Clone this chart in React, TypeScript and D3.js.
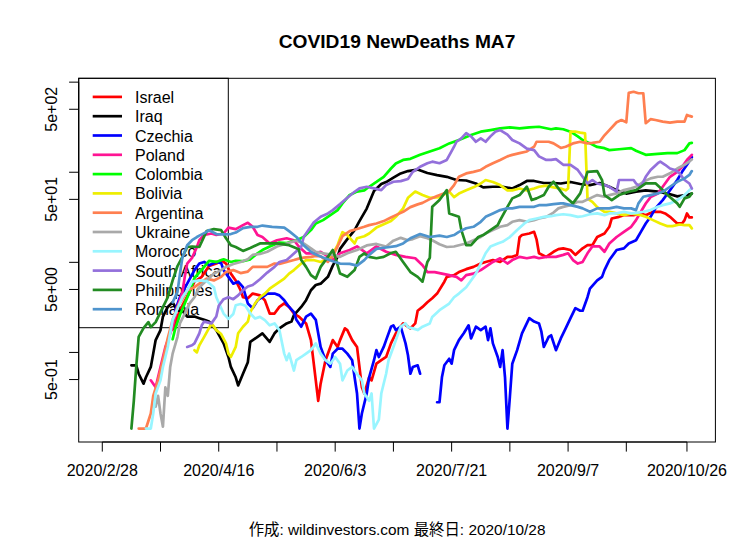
import * as d3 from "d3";

const W = 756;
const H = 540;
const MARGIN = { top: 78.3, right: 40.6, bottom: 98, left: 78.7 };

const FIRST_DATE = "2020-02-28";
const LAST_DATE = "2020-10-28";
const X_TICKS = [
  "2020-02-28", "2020-03-23", "2020-04-16", "2020-05-10", "2020-06-03", "2020-06-27",
  "2020-07-21", "2020-08-14", "2020-09-07", "2020-10-01", "2020-10-26",
];
const Y_TICKS = [0.5, 1, 5, 10, 50, 100, 500, 1000];
const Y_LABELS = ["5e-01", "", "5e+00", "", "5e+01", "", "5e+02", ""];

// [days since 2020-02-28, 7 day mean of new deaths]
const israel = [[29,1.8],[31,2.5],[33,3.3],[36,4.7],[38,6.1],[41,6.9],[44,9.1],[47,9.7],[49,10.6],[51,9.7],[53,7.5],[55,6.3],[57,4.9],[58,4.1],[60,4.0],[62,4.5],[65,4.3],[67,3.8],[69,2.7],[71,2.7],[73,3.2],[75,3.5],[77,3.2],[79,2.7],[81,2.5],[84,2.1],[86,1.37],[87,0.82],[88,0.49],[89,0.29],[90,0.45],[92,0.82],[94,1.15],[95,1.37],[97,1.15],[98,1.37],[100,1.85],[101,1.77],[103,1.37],[105,1.15],[106,0.69],[107,0.41],[108,0.35],[110,0.53],[111,0.49],[113,0.75],[115,0.82],[117,0.89],[119,1.26],[121,1.63],[123,1.93],[124,2.1],[127,1.85],[129,2.1],[130,2.9],[132,3.2],[134,3.6],[136,4.0],[138,4.5],[141,6.1],[142,6.9],[145,7.2],[147,7.8],[150,8.4],[153,8.9],[156,9.7],[158,10.1],[161,10.6],[164,10.1],[167,11.5],[169,11.5],[171,12.1],[172,19],[173,20.1],[176,20.9],[178,21.8],[179,18],[180,12.6],[183,11.5],[186,13.1],[188,14],[190,14.3],[193,13.7],[195,12.1],[198,14.3],[200,15.5],[202,15.5],[204,19.1],[207,20.9],[209,24.8],[210,30.7],[213,32],[215,33.4],[219,33.4],[222,34.9],[224,33.4],[227,36.4],[230,36.4],[232,34.9],[234,32],[237,27],[239,27],[240,29.4],[241,34.9],[242,31.5],[243,31.5]];
const iraq = [[12,0.72],[14,0.72],[15,0.58],[17,0.45],[18,0.53],[20,0.69],[21,0.97],[22,1.37],[24,1.77],[25,2.5],[27,3.2],[29,3.6],[31,2.9],[33,2.9],[35,2.5],[38,2.5],[40,2.4],[42,2.3],[44,2.2],[47,1.77],[50,1.26],[52,0.89],[53,0.69],[55,0.53],[56,0.43],[58,0.58],[60,0.78],[61,1.31],[64,1.49],[66,1.63],[69,1.31],[71,1.63],[73,1.85],[76,2.1],[78,2.2],[79,2.6],[82,3.2],[84,3.8],[86,4.9],[88,5.6],[90,5.8],[93,6.9],[95,9.2],[97,11.5],[98,14.1],[101,18.1],[104,22.8],[106,28.7],[109,39.5],[112,61.8],[115,73.9],[117,77.8],[120,87],[123,97],[126,103],[130,107],[134,98],[138,93],[142,89],[146,82],[150,81],[154,75],[157,68],[161,69],[165,69],[169,66],[172,72],[175,80],[178,80],[182,76],[186,76],[189,75],[193,78],[197,74],[201,72],[205,76],[209,69],[212,63],[216,58],[220,61],[224,63],[229,61],[233,58],[237,54],[241,56],[243,58]];
const czechia = [[30,2.9],[32,4.1],[35,5.8],[38,8.2],[40,9.7],[42,10.1],[44,9.3],[47,10.1],[49,9.8],[50,8.2],[52,6.9],[54,5.8],[56,6.1],[58,5.3],[60,3.5],[62,3.1],[64,3.8],[66,4.1],[68,4.5],[71,4.5],[73,4.3],[75,3.8],[77,3.2],[79,2.8],[80,2.3],[82,1.93],[84,2.5],[86,2.7],[88,2.3],[89,1.63],[90,1.15],[92,0.82],[94,0.69],[95,0.97],[97,1.1],[99,1.1],[101,0.97],[103,0.82],[104,0.53],[105,0.35],[106,0.143],[107,0.21],[109,0.35],[110,0.53],[112,0.82],[113,1.06],[114,0.89],[116,1.15],[117,1.37],[119,1.93],[120,2.0],[121,1.77],[123,1.93],[125,1.26],[126,0.93],[127,0.58],[128,0.69],[130,0.72],[131,0.58],[134,null],[138,0.28],[139,0.28],[140,0.53],[141,0.72],[143,0.85],[144,0.75],[145,1.06],[147,1.37],[149,1.63],[151,2.0],[152,1.43],[154,1.93],[156,1.77],[158,1.93],[159,1.37],[160,1.85],[161,1.26],[163,0.89],[164,0.69],[165,1.06],[166,0.53],[167,0.143],[168,0.32],[169,0.75],[171,1.06],[173,1.63],[176,2.4],[178,2.2],[180,2.1],[181,1.7],[182,1.15],[184,1.49],[185,1.55],[187,1.06],[189,1.43],[191,1.85],[193,2.4],[195,3.1],[197,2.9],[198,2.9],[200,4.1],[201,5.1],[204,6.3],[206,6.9],[207,8.2],[209,10.6],[212,13.7],[215,14.3],[217,16.2],[220,17.6],[222,21.8],[224,27],[226,32],[228,39.7],[231,49],[234,63],[237,82],[239,101],[241,121],[243,147]];
const poland = [[20,0.49],[22,0.41],[24,0.69],[26,1.15],[29,1.93],[31,3.2],[33,4.6],[34,6.9],[35,9.7],[37,11.2],[39,14.8],[40,17.6],[42,20.1],[45,20.9],[47,20.1],[50,20.9],[52,24.3],[55,23.4],[58,25.9],[60,27.5],[62,24.8],[64,20.1],[66,19.1],[69,16.2],[72,17.6],[76,18.5],[79,17.6],[81,15],[84,12.6],[87,12.6],[90,13.1],[92,12.1],[95,10.6],[98,12.6],[102,13.7],[105,15],[109,12.6],[113,15],[117,13.1],[121,12.1],[125,11.5],[129,11.1],[132,9.3],[134,7.8],[137,7.8],[140,7.5],[143,7.2],[146,6.9],[148,6.3],[150,7.2],[153,7.5],[156,8.2],[158,8.9],[161,10.1],[164,11.1],[167,9.7],[169,10.6],[172,11.5],[175,11.1],[178,11.5],[180,11.1],[183,11.5],[187,11.5],[190,12.1],[192,12.6],[194,10.6],[196,9.7],[198,10.1],[200,12.6],[202,15],[205,15],[207,13.1],[209,16.2],[212,19.1],[215,21.8],[218,24.8],[220,29.4],[222,36.4],[224,45],[226,53],[229,58],[231,69],[234,89],[237,101],[239,115],[241,137],[243,156]];
const colombia = [[29,1.4],[30,1.8],[32,2.6],[34,3.5],[36,4.7],[38,6.7],[42,8.9],[44,10.4],[47,10.1],[50,10.8],[53,10.1],[55,10.4],[58,10.3],[61,10.8],[64,12.6],[66,13.7],[69,15],[73,16.6],[76,16.4],[80,17.6],[83,19.1],[86,22.8],[88,27],[91,29.4],[94,33.4],[97,38],[99,45],[102,56],[105,61],[108,63],[110,69],[113,78],[116,89],[119,110],[121,125],[124,137],[127,141],[131,156],[135,170],[139,185],[143,209],[147,228],[152,259],[156,282],[160,294],[164,307],[168,315],[172,307],[176,315],[180,320],[185,300],[187,307],[190,300],[193,282],[196,250],[198,228],[201,209],[204,191],[207,185],[209,176],[213,180],[218,185],[220,173],[224,156],[229,160],[233,163],[237,163],[240,176],[242,209],[243,212]];
const bolivia = [[38,1.06],[39,1.0],[40,1.2],[42,1.49],[44,1.86],[45,2.1],[47,1.77],[49,1.6],[51,1.26],[52,0.97],[53,0.89],[55,1.15],[56,1.63],[58,1.93],[60,2.2],[61,2.8],[63,3.5],[65,4.1],[67,4.5],[69,5.1],[72,5.8],[75,6.6],[77,7.5],[79,8.2],[82,9.7],[84,10.6],[87,10.6],[90,10.1],[92,10.6],[94,11.1],[95,12.5],[97,15.5],[98,18.5],[99,21.6],[101,20.1],[104,16.2],[105,18.5],[108,19.5],[110,20.9],[113,24.3],[116,26.5],[119,28.7],[121,32],[124,39.7],[126,52],[129,61],[132,56],[135,52],[139,53],[143,61],[145,53],[147,58],[150,63],[153,68],[156,75],[158,82],[161,78],[164,72],[167,63],[169,63],[172,66],[175,63],[178,66],[180,69],[183,71],[186,68],[189,66],[191,63],[192,66],[193,282],[195,282],[197,275],[199,270],[200,51],[202,47],[204,41],[207,36.4],[209,36.4],[212,34.9],[215,33.4],[218,34.9],[222,33.4],[224,32],[227,29.4],[230,27],[233,25.2],[235,25.2],[238,26.3],[240,25.9],[242,25.9],[243,23.8]];
const argentina = [[15,0.143],[18,0.143],[20,0.21],[21,0.33],[23,0.49],[25,0.82],[27,1.44],[29,2.3],[31,3.2],[33,3.9],[35,4.9],[38,5.3],[40,5.8],[43,6.6],[46,6.3],[49,6.9],[51,7.8],[54,8.2],[57,7.6],[60,7.9],[62,8.9],[65,8.9],[68,8.9],[71,9.7],[73,9.6],[76,10.1],[79,10.6],[81,11],[83,11.3],[86,11.5],[88,11.8],[90,11.7],[93,10.1],[95,11.7],[97,15],[99,19.5],[102,22.2],[105,23.4],[108,24.8],[110,25.9],[113,27],[116,28.7],[119,31.5],[121,33.4],[124,36.4],[127,41],[130,44],[132,45.7],[135,50.3],[138,54.4],[141,58.3],[143,61.8],[145,72],[147,89],[150,97],[153,101],[156,106],[158,115],[161,126],[164,137],[167,150],[169,156],[172,163],[175,170],[178,192],[179,218],[181,218],[184,218],[186,209],[189,186],[191,192],[194,209],[197,218],[200,209],[202,212],[205,218],[207,257],[209,294],[212,359],[214,380],[216,359],[217,760],[219,782],[221,753],[223,753],[224,350],[226,388],[228,380],[231,365],[234,356],[237,365],[240,365],[241,432],[242,422],[243,414]];
const ukraine = [[22,0.25],[23,0.33],[24,0.21],[25,0.15],[26,0.41],[27,0.33],[28,0.69],[29,0.97],[31,1.49],[32,2.1],[34,2.7],[36,3.5],[38,4.1],[40,5.3],[43,6.3],[46,7.5],[49,8.2],[51,8.9],[54,9.6],[57,10.1],[60,10.8],[62,12.1],[65,12.4],[68,13.1],[72,15],[76,16.2],[80,17.4],[83,16.2],[86,14.3],[88,13.1],[91,12.6],[95,12.1],[98,11.5],[101,12.6],[105,13.7],[109,15.4],[113,16],[117,15],[120,17.4],[123,18.7],[126,17.6],[128,18.1],[131,19.5],[134,18.5],[136,17.6],[139,15.9],[142,14.8],[145,15],[147,15.5],[150,16.2],[153,17.6],[156,19.1],[158,20.9],[161,22.8],[164,24.8],[167,25.9],[169,28.2],[172,29.4],[175,28.2],[178,29.4],[180,30.7],[183,32],[186,35.7],[188,39.7],[190,41.3],[193,43.1],[196,47],[198,47],[201,51.3],[204,55.8],[207,53.4],[209,55.8],[212,58.3],[215,63.4],[218,66.2],[220,69],[223,78.4],[226,85.5],[229,89.1],[231,89.1],[234,97.4],[237,110],[240,121],[242,132],[243,139]];
const morocco = [[18,0.143],[20,0.143],[21,0.21],[22,0.35],[24,0.49],[25,0.69],[27,1.15],[28,1.63],[29,2.3],[31,3.05],[33,4.1],[35,4.9],[37,6.1],[40,6.3],[43,6.2],[46,5.3],[47,4.1],[50,2.7],[52,2.36],[54,2.67],[55,3.34],[57,3.45],[59,3.3],[61,2.7],[63,2.38],[65,2.48],[67,2.28],[69,2.0],[71,2.1],[73,1.77],[75,0.97],[76,0.82],[77,0.97],[79,0.63],[80,0.82],[82,0.89],[84,0.97],[86,1.06],[88,1.26],[90,0.97],[92,0.82],[94,0.75],[96,0.89],[98,0.75],[99,0.49],[101,0.63],[103,0.69],[105,0.58],[107,0.49],[108,0.35],[110,0.29],[111,0.35],[112,0.143],[114,0.18],[115,0.35],[117,0.58],[118,0.82],[120,1.15],[122,1.63],[123,1.93],[125,2.1],[126,1.91],[128,1.85],[130,1.77],[132,1.93],[135,2.1],[136,2.48],[139,2.94],[141,3.2],[143,3.49],[145,4.1],[147,4.5],[150,5.3],[152,6.3],[154,7.5],[156,9.7],[158,12.6],[160,15],[163,16.2],[165,16.9],[168,19.1],[171,22.8],[174,27],[176,29.4],[179,30.7],[182,32],[185,32.5],[187,33.4],[190,34.2],[193,33.4],[196,32],[198,32.5],[201,34.2],[204,34.9],[207,33.4],[209,34.9],[212,34.9],[215,36.4],[218,34.9],[220,35.4],[223,36.4],[226,38],[229,41.3],[231,43.1],[234,45.1],[237,49.1],[240,55.8],[242,63.4],[243,66.2]];
const southAfrica = [[35,1.15],[37,1.2],[38,1.26],[40,1.63],[41,2.0],[42,2.2],[45,2.1],[47,2.5],[48,3.3],[50,3.9],[52,4.1],[54,3.9],[56,4.3],[58,4.9],[60,5.4],[62,5.6],[65,6.5],[68,7.7],[71,8.9],[73,10.1],[76,10.6],[79,12.5],[82,14.8],[83,19.1],[85,22.8],[87,27.4],[90,32],[93,34.9],[95,38],[98,44.3],[101,52.2],[104,60.7],[106,66.2],[109,69],[112,66.2],[115,63.4],[117,72.1],[120,78.4],[123,79.7],[126,84],[128,101],[131,115],[134,126],[136,131],[139,126],[142,137],[145,192],[146,218],[148,238],[150,272],[152,250],[154,218],[156,238],[158,218],[160,250],[162,282],[164,294],[167,261],[169,228],[172,209],[175,183],[178,176],[180,150],[183,137],[185,137],[187,140],[190,121],[193,121],[196,106],[198,89],[200,75],[202,82],[204,75],[207,72],[209,69],[212,61],[213,82],[216,82],[219,82],[220,75],[222,69],[224,89],[226,106],[229,126],[230,131],[232,121],[234,110],[236,106],[238,97],[240,82],[242,75],[243,66]];
const philippines = [[12,0.143],[13,0.29],[14,0.69],[15,1.49],[17,1.86],[19,2.17],[20,1.91],[22,2.17],[25,3.18],[27,4.1],[29,6.3],[31,9.1],[33,11.4],[35,14.8],[37,15],[40,14.8],[43,22.2],[46,23.4],[49,22.8],[51,18.5],[53,15.5],[55,14.8],[58,13.4],[61,14.4],[65,16.2],[68,16.2],[72,16.2],[77,15.5],[81,14],[82,10.6],[84,8.9],[86,7.2],[88,6.6],[90,8.9],[93,11.5],[95,13.7],[96,11.5],[98,7.5],[101,6.9],[104,8.2],[106,11.5],[108,12.6],[110,11.5],[113,11.1],[116,11.5],[119,12.7],[121,13.1],[124,10.1],[127,7.8],[130,6.9],[132,6.1],[134,10.1],[135,11.2],[136,41.3],[139,49.1],[142,63.4],[143,34.9],[147,32],[148,22.8],[150,15.5],[152,15.5],[155,19.1],[157,20.1],[160,22.8],[163,25.9],[164,29.4],[167,41.3],[169,51.3],[172,55.8],[175,69],[177,49.1],[179,51.3],[182,55.8],[184,69],[186,78.4],[188,66.2],[190,55.8],[194,45.1],[197,58.3],[200,101],[204,103],[206,81.9],[207,55.8],[210,49.1],[213,55.8],[217,60.7],[220,63.4],[224,75.3],[228,75.3],[231,63.4],[233,55.8],[237,45.1],[238,41.3],[240,51.3],[242,53.4],[243,58.3]];
const romania = [[29,3.6],[31,4.7],[32,7.4],[33,11.2],[35,15.5],[37,17.6],[39,19.1],[40,19.8],[43,21.8],[44,22.8],[47,20.6],[50,20.4],[53,20.6],[55,21.4],[58,24],[61,24.8],[64,24.8],[66,25.6],[70,24.8],[75,24.3],[77,22.2],[80,19.1],[83,15.5],[86,13.1],[88,12.2],[91,11.3],[95,10.3],[98,9.7],[102,9.6],[105,9.2],[108,10.6],[110,12.1],[113,14.1],[117,14.6],[121,15.1],[124,16.2],[127,18.5],[131,20.6],[135,19.1],[139,19.8],[142,19.1],[145,20.1],[147,21.8],[150,23.9],[153,24.8],[156,28.2],[158,32],[161,34.9],[164,38],[167,39.7],[169,39.7],[172,41.3],[175,41.3],[178,41.3],[180,43.1],[183,43.1],[186,44.2],[189,45.1],[190,45.1],[193,43.1],[196,41.3],[198,39.7],[201,36.4],[204,39.7],[207,39.7],[209,39.7],[212,41.3],[215,39.7],[218,39.7],[220,38],[221,45.1],[223,53.4],[226,55.8],[229,58.3],[231,60.7],[234,69],[237,78.4],[240,85.5],[242,93.3],[243,103]];

const COUNTRIES = ["Israel", "Iraq", "Czechia", "Poland", "Colombia", "Bolivia", "Argentina", "Ukraine", "Morocco", "South Africa", "Philippines", "Romania"];
const COLORS = ["#FF0000", "#000000", "#0000FF", "#FF1493", "#00FF00", "#EEEE00", "#FF7F50", "#A9A9A9", "#98F5FF", "#9370DB", "#228B22", "#4F94CD"];
const SERIES = [israel, iraq, czechia, poland, colombia, bolivia, argentina, ukraine, morocco, southAfrica, philippines, romania];

const FONT = "'Liberation Sans', Arial, Helvetica, sans-serif";
const DAY = 864e5;

export default function App() {
  const left = MARGIN.left;
  const right = W - MARGIN.right;
  const top = MARGIN.top;
  const bottom = H - MARGIN.bottom;

  // R style 4% padding on both axes
  const t0 = new Date(FIRST_DATE).getTime();
  const t1 = new Date(LAST_DATE).getTime();
  const span = t1 - t0;
  const x = d3
    .scaleUtc()
    .domain([new Date(t0 - 0.04 * span), new Date(t1 + 0.04 * span)])
    .range([left, right]);

  const vals = SERIES.flat().map((p) => p[1]).filter((v) => v != null);
  const [lo, hi] = d3.extent(vals);
  const lr = Math.log10(hi) - Math.log10(lo);
  const y = d3
    .scaleLog()
    .domain([10 ** (Math.log10(lo) - 0.04 * lr), 10 ** (Math.log10(hi) + 0.04 * lr)])
    .range([bottom, top]);

  const line = d3
    .line()
    .defined((p) => p[1] != null)
    .x((p) => x(new Date(t0 + p[0] * DAY)))
    .y((p) => y(p[1]));

  const fmt = d3.utcFormat("%Y/%-m/%-d");

  const legendTop = 96.9;
  const legendStep = 19.3;

  return (
    <svg
      width={W}
      height={H}
      style={{ position: "absolute", left: 0, top: 0, background: "#fff" }}
      fontFamily={FONT}
    >
      <rect width={W} height={H} fill="#fff" />

      {/* title */}
      <text x={(left + right) / 2} y={48} textAnchor="middle" fontSize={19.2} fontWeight="bold">
        COVID19 NewDeaths MA7
      </text>

      {/* legend (drawn under the lines) */}
      <rect x={left} y={top} width={228.3 - left} height={327.7 - top} fill="none" stroke="#000" strokeWidth={1} />
      {COUNTRIES.map((name, i) => {
        const ly = legendTop + i * legendStep;
        return (
          <g key={name}>
            <line x1={92.7} x2={122} y1={ly} y2={ly} stroke={COLORS[i]} strokeWidth={2.7} />
            <text x={135} y={ly + 6} fontSize={16}>
              {name}
            </text>
          </g>
        );
      })}

      {/* series */}
      <g fill="none" strokeWidth={2.7} strokeLinejoin="round" strokeLinecap="round">
        {SERIES.map((s, i) => (
          <path key={COUNTRIES[i]} d={line(s)} stroke={COLORS[i]} />
        ))}
      </g>

      {/* box */}
      <rect x={left} y={top} width={right - left} height={bottom - top} fill="none" stroke="#000" strokeWidth={1} />

      {/* x axis */}
      <g>
        <line x1={x(new Date(X_TICKS[0]))} x2={x(new Date(X_TICKS[X_TICKS.length - 1]))} y1={bottom} y2={bottom} stroke="#000" />
        {X_TICKS.map((t, i) => {
          const d = new Date(t);
          const px = x(d);
          return (
            <g key={t}>
              <line x1={px} x2={px} y1={bottom} y2={bottom + 9.6} stroke="#000" />
              {i % 2 === 0 && (
                <text x={px} y={476} textAnchor="middle" fontSize={16}>
                  {fmt(d)}
                </text>
              )}
            </g>
          );
        })}
      </g>

      {/* y axis */}
      <g>
        <line x1={left} x2={left} y1={y(Y_TICKS[0])} y2={y(Y_TICKS[Y_TICKS.length - 1])} stroke="#000" />
        {Y_TICKS.map((v, i) => {
          const py = y(v);
          return (
            <g key={v}>
              <line x1={left - 9.6} x2={left} y1={py} y2={py} stroke="#000" />
              {Y_LABELS[i] && (
                <text transform={`translate(56.5,${py}) rotate(-90)`} textAnchor="middle" fontSize={16}>
                  {Y_LABELS[i]}
                </text>
              )}
            </g>
          );
        })}
      </g>

      {/* footer */}
      <text
        x={(left + right) / 2}
        y={535}
        textAnchor="middle"
        fontSize={15.4}
        fontFamily={`'Liberation Sans', Arial, 'Noto Sans CJK JP', sans-serif`}
      >
        作成: wildinvestors.com 最終日: 2020/10/28
      </text>
    </svg>
  );
}
